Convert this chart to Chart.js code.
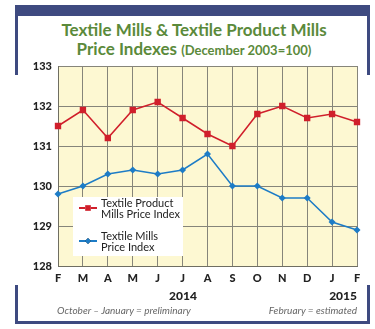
<!DOCTYPE html>
<html lang="en">
<head>
  <meta charset="UTF-8">
  <title>Textile Mills & Textile Product Mills Price Indexes</title>
  <style>
    body { margin: 0; background: #fff; font-family: Lato, Arial, sans-serif; }
    #wrap { position: relative; width: 375px; height: 329px; overflow: hidden; }
    #chart { position: absolute; left: 0; top: 0; }
    .bar { position: absolute; background: #3e4a80; }
    .txt { position: absolute; white-space: nowrap; }
    #title { left: 0; width: 388px; top: 20px; text-align: center; color: #5b8a3b;
             font-weight: 700; font-size: 17px; line-height: 19px; }
    #title small { font-size: 13px; }
    .year { top: 288px; font-weight: 900; font-size: 12px; color: #222; }
    .note { top: 304px; font-style: italic; font-size: 10px; color: #666; }
  </style>
  <script src="https://cdn.jsdelivr.net/npm/chart.js"></script>
</head>
<body>
<div id="wrap">
  <!-- frame -->
  <div class="bar" style="left:15px;top:5px;width:355px;height:11px"></div>
  <div class="bar" style="left:15px;top:5px;width:3px;height:70px"></div>
  <div class="bar" style="left:367px;top:5px;width:3px;height:70px"></div>
  <div class="bar" style="left:15px;top:285px;width:3px;height:39px"></div>
  <div class="bar" style="left:367px;top:285px;width:3px;height:39px"></div>
  <div class="bar" style="left:15px;top:321px;width:355px;height:3px"></div>

  <div id="title" class="txt">Textile Mills &amp; Textile Product Mills<br>Price Indexes <small>(December 2003=100)</small></div>

  <canvas id="chart" width="375" height="329"></canvas>

  <div class="txt year" style="left:169px">2014</div>
  <div class="txt year" style="right:18px">2015</div>
  <div class="txt note" style="left:57px">October – January = preliminary</div>
  <div class="txt note" style="right:18px">February = estimated</div>
</div>

<script>
  const months = ['F', 'M', 'A', 'M', 'J', 'J', 'A', 'S', 'O', 'N', 'D', 'J', 'F'];
  const productMills = [131.5, 131.9, 131.2, 131.9, 132.1, 131.7, 131.3, 131.0, 131.8, 132.0, 131.7, 131.8, 131.6];
  const textileMills = [129.8, 130.0, 130.3, 130.4, 130.3, 130.4, 130.8, 130.0, 130.0, 129.7, 129.7, 129.1, 128.9];
  const yTicks = [128, 129, 130, 131, 132, 133];

  const RED = '#d01f2b';
  const BLUE = '#1d7cc6';

  // yellow plot background
  const plotBg = {
    id: 'plotBg',
    beforeDraw(chart) {
      const { ctx, chartArea: a } = chart;
      ctx.save();
      ctx.fillStyle = '#fdf8d2';
      ctx.fillRect(a.left, a.top, a.right - a.left, a.bottom - a.top);
      ctx.restore();
    }
  };

  // legend box sitting inside the plot
  const boxLegend = {
    id: 'boxLegend',
    afterDatasetsDraw(chart) {
      const ctx = chart.ctx;
      ctx.save();
      ctx.fillStyle = '#fff';
      ctx.fillRect(73, 197, 110, 59);
      ctx.font = '11px Lato, Arial, sans-serif';
      ctx.textBaseline = 'middle';
      const rows = [
        { ds: chart.data.datasets[0], y: 208, lines: ['Textile Product', 'Mills Price Index'] },
        { ds: chart.data.datasets[1], y: 241, lines: ['Textile Mills', 'Price Index'] }
      ];
      rows.forEach(r => {
        ctx.strokeStyle = r.ds.borderColor;
        ctx.lineWidth = 2;
        ctx.beginPath();
        ctx.moveTo(79, r.y);
        ctx.lineTo(97, r.y);
        ctx.stroke();
        Chart.helpers.drawPoint(ctx, {
          pointStyle: r.ds.pointStyle,
          radius: r.ds.pointRadius - 0.5,
          rotation: 0,
          borderWidth: 0
        }, 88, r.y);
        ctx.fillStyle = r.ds.borderColor;
        ctx.fill();
        ctx.fillStyle = '#222';
        ctx.fillText(r.lines[0], 101, r.y - 5);
        ctx.fillText(r.lines[1], 101, r.y + 6);
      });
      ctx.restore();
    }
  };

  new Chart(document.getElementById('chart'), {
    type: 'line',
    data: {
      labels: months,
      datasets: [
        {
          label: 'Textile Product Mills Price Index',
          data: productMills,
          borderColor: RED,
          backgroundColor: RED,
          borderWidth: 1.5,
          pointStyle: 'rect',
          pointRadius: 4.5,
          pointBorderWidth: 0,
          tension: 0
        },
        {
          label: 'Textile Mills Price Index',
          data: textileMills,
          borderColor: BLUE,
          backgroundColor: BLUE,
          borderWidth: 1.5,
          pointStyle: 'rectRot',
          pointRadius: 3.5,
          pointBorderWidth: 0,
          tension: 0
        }
      ]
    },
    options: {
      responsive: false,
      animation: false,
      layout: { padding: { top: 66, right: 18, left: 0, bottom: 0 } },
      plugins: { legend: { display: false }, tooltip: { enabled: false } },
      scales: {
        x: {
          offset: false,
          grid: { color: '#86857a', lineWidth: 1, drawTicks: false },
          border: { color: '#6f6e62', width: 1 },
          ticks: { color: '#222', padding: 6, font: { family: 'Lato', weight: '900', size: 11 } },
          afterFit(s) { s.height = 63; }
        },
        y: {
          min: 128,
          max: 133,
          afterBuildTicks(s) { s.ticks = yTicks.map(v => ({ value: v })); },
          grid: { color: '#86857a', lineWidth: 1, drawTicks: false },
          border: { color: '#6f6e62', width: 1 },
          ticks: { color: '#222', padding: 6, font: { family: 'Lato', weight: '900', size: 11 } },
          afterFit(s) { s.width = 58; }
        }
      }
    },
    plugins: [plotBg, boxLegend]
  });
</script>
</body>
</html>
